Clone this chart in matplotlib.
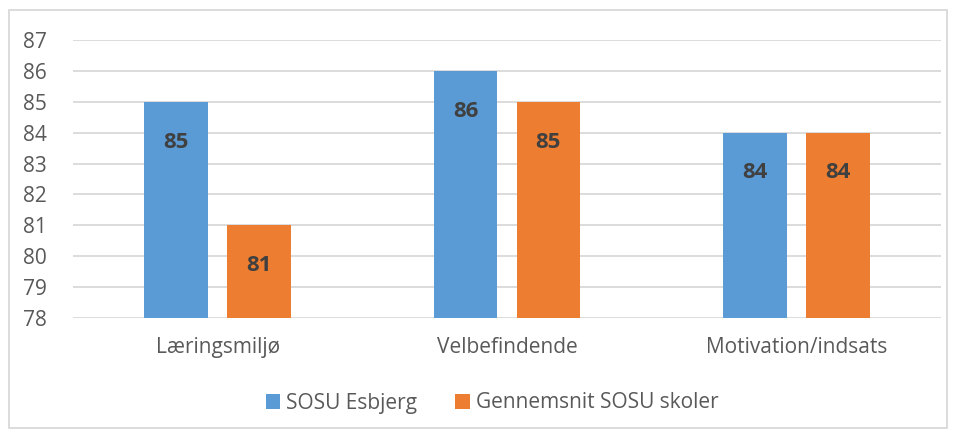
import matplotlib
matplotlib.use("Agg")
import matplotlib.pyplot as plt
from matplotlib.patches import Rectangle
import numpy as np

categories = ["Læringsmiljø", "Velbefindende", "Motivation/indsats"]
series_names = ["SOSU Esbjerg", "Gennemsnit SOSU skoler"]
esbjerg = [85, 86, 84]
gennemsnit = [81, 85, 84]
yticks = [78, 79, 80, 81, 82, 83, 84, 85, 86, 87]

colors = ["#5B9BD5", "#ED7D31"]
text_color = "#595959"
grid_color = "#D9D9D9"

plt.rcParams['font.family'] = ['Open Sans', 'DejaVu Sans']

W, H = 955, 432
fig = plt.figure(figsize=(W / 100, H / 100), dpi=100)
fig.patches.append(Rectangle((9 / W, 1 - 428 / H), (947 - 9) / W, (428 - 10) / H,
                             transform=fig.transFigure, fill=False,
                             edgecolor=grid_color, linewidth=1.3))

ax = fig.add_axes([73 / W, 1 - 318 / H, (941 - 73) / W, (318 - 40) / H])

x = np.arange(len(categories))
bw = 0.22
off = 0.143
b1 = ax.bar(x - off, [v - 78 for v in esbjerg], bw, bottom=78, color=colors[0],
            label=series_names[0], zorder=3)
b2 = ax.bar(x + off, [v - 78 for v in gennemsnit], bw, bottom=78, color=colors[1],
            label=series_names[1], zorder=3)

for bars, vals in ((b1, esbjerg), (b2, gennemsnit)):
    for rect, v in zip(bars, vals):
        ax.annotate(f"{v}", (rect.get_x() + rect.get_width() / 2, v),
                    xytext=(0, -29), textcoords="offset points",
                    ha="center", va="center", fontsize=16, fontweight="bold",
                    color="#404040", zorder=4)

ax.set_xlim(-0.5, 2.5)
ax.set_ylim(78, 87)
ax.set_yticks(yticks)
ax.set_xticks(x)
ax.set_xticklabels(categories)
ax.tick_params(axis="both", length=0, labelsize=15, colors=text_color)
ax.tick_params(axis="y", pad=19)
ax.tick_params(axis="x", pad=14)
ax.grid(axis="y", color=grid_color, linewidth=1.3, zorder=0)
for s in ax.spines.values():
    s.set_visible(False)

fig.legend(handles=[b1, b2], labels=series_names, loc="center",
           bbox_to_anchor=(492 / W, 1 - 403 / H), ncol=2, frameon=False,
           fontsize=15, labelcolor=text_color, handlelength=0.7, handleheight=0.7,
           handletextpad=0.3, columnspacing=1.8)

fig.savefig("out.png", dpi=100)
